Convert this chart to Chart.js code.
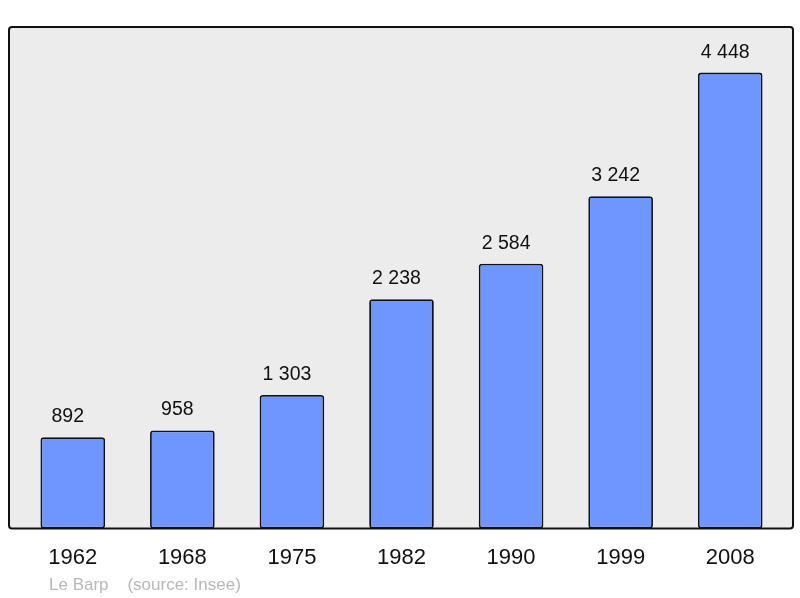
<!DOCTYPE html>
<html>
<head>
<meta charset="utf-8">
<script src="https://cdn.jsdelivr.net/npm/chart.js@4/dist/chart.umd.min.js"></script>
<style>
html,body{margin:0;padding:0;background:#fff;}
#wrap{width:800px;height:598px;position:relative;}
</style>
</head>
<body>
<div id="wrap"><canvas id="c" width="800" height="598"></canvas></div>
<script>
const years = ['1962','1968','1975','1982','1990','1999','2008'];
const population = [892, 958, 1303, 2238, 2584, 3242, 4448];
const footerText = 'Le Barp    (source: Insee)';

function fmt(v){ return String(v).replace(/\B(?=(\d{3})+(?!\d))/g, ' '); }

const framePlugin = {
  id: 'frame',
  beforeDatasetsDraw(chart){
    const ctx = chart.ctx, a = chart.chartArea;
    const l = a.left - 9, r = a.right + 8, t = a.top, b = a.bottom;
    ctx.save();
    ctx.beginPath();
    ctx.roundRect(l, t, r - l, b - t, 3);
    ctx.fillStyle = '#ececec';
    ctx.fill();
    ctx.restore();
  },
  afterDatasetsDraw(chart){
    const ctx = chart.ctx, a = chart.chartArea;
    const l = a.left - 9, r = a.right + 8, t = a.top, b = a.bottom;
    ctx.save();
    ctx.beginPath();
    ctx.roundRect(l, t, r - l, b - t, 3);
    ctx.lineWidth = 2;
    ctx.strokeStyle = '#111';
    ctx.stroke();
    // value labels
    const meta = chart.getDatasetMeta(0);
    ctx.fillStyle = '#111';
    ctx.font = '19.5px "Liberation Sans", Arial, sans-serif';
    ctx.textAlign = 'center';
    ctx.textBaseline = 'alphabetic';
    meta.data.forEach((el, i) => {
      ctx.fillText(fmt(population[i]), el.x - 5, el.y - 15);
    });
    // footer
    ctx.fillStyle = '#b8b8b8';
    ctx.font = '17px "Liberation Sans", Arial, sans-serif';
    ctx.textAlign = 'left';
    ctx.fillText(footerText, 49, 590);
    ctx.restore();
  }
};

new Chart(document.getElementById('c'), {
  type: 'bar',
  data: {
    labels: years,
    datasets: [{
      data: population,
      backgroundColor: '#6f96ff',
      borderColor: '#111',
      borderWidth: 1.8,
      borderRadius: 3,
      borderSkipped: false,
      categoryPercentage: 1,
      barPercentage: 0.59
    }]
  },
  options: {
    responsive: false,
    animation: false,
    events: [],
    layout: { padding: { top: 27, left: 18, right: 15, bottom: 11 } },
    plugins: { legend: { display: false }, tooltip: { enabled: false } },
    scales: {
      x: {
        grid: { display: false, drawTicks: false },
        border: { display: false },
        ticks: { color: '#111', padding: 16, font: { size: 22, family: '"Liberation Sans", Arial, sans-serif' } }
      },
      y: {
        display: false,
        min: 0,
        max: 4893
      }
    }
  },
  plugins: [framePlugin]
});
</script>
</body>
</html>
